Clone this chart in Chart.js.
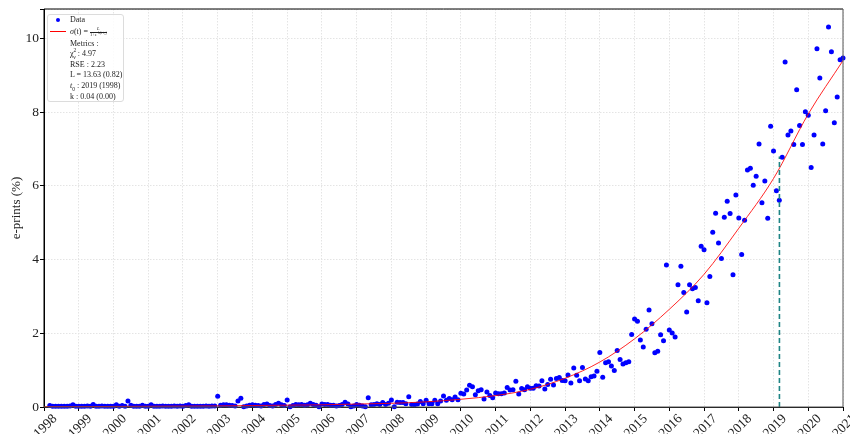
<!DOCTYPE html>
<html>
<head>
<meta charset="utf-8">
<script src="https://cdn.jsdelivr.net/npm/chart.js@4.4.1/dist/chart.umd.min.js"></script>
<style>
  body { margin: 0; background: #fff; }
  #wrap { position: relative; width: 850px; height: 434px; }
  #legend {
    position: absolute; left: 47px; top: 14px; width: 75px; height: 86px;
    border: 1px solid #dcdcdc; border-radius: 3px; background: rgba(255,255,255,0.85);
    font: 8px 'Liberation Serif', serif; color: #222;
  }
  #legend .row { position: absolute; left: 22px; height: 10px; line-height: 10px; white-space: nowrap; }
  #legend .dot { position: absolute; left: 8px; top: 3px; width: 4px; height: 4px; border-radius: 50%; background: #0000ff; }
  #legend .line { position: absolute; left: 2px; top: 16px; width: 16px; height: 0; border-top: 1.2px solid #ff0000; }
  .frac { display: inline-flex; flex-direction: column; align-items: center; vertical-align: middle;
          font-size: 4.5px; line-height: 4.5px; margin-left: 2px; }
  .frac .num { width: 100%; text-align: center; border-bottom: 0.6px solid #222; }
  .frac sup { font-size: 3px; vertical-align: 1.5px; line-height: 0; }
  .frac sub { font-size: 2.5px; vertical-align: -0.5px; line-height: 0; }
  .s { font-size: 5.5px; line-height: 0; }
</style>
</head>
<body>
<div id="wrap">
  <canvas id="chart" width="850" height="434"></canvas>
  <div id="legend">
    <span class="dot"></span>
    <div class="row" style="top:0px">Data</div>
    <span class="line"></span>
    <div class="row" style="top:12px"><i>σ</i>(t) =<span class="frac"><span class="num"><i>L</i></span><span class="den">1+e<sup>−k(t−t<sub>0</sub>)</sup></span></span></div>
    <div class="row" style="top:24px">Metrics :</div>
    <div class="row" style="top:34px">χ<sup class="s">2</sup><sub class="s" style="margin-left:-3px">ν</sub> : 4.97</div>
    <div class="row" style="top:45px">RSE : 2.23</div>
    <div class="row" style="top:55px">L = 13.63 (0.82)</div>
    <div class="row" style="top:66px"><i>t</i><sub class="s">0</sub> : 2019 (1998)</div>
    <div class="row" style="top:77px">k : 0.04 (0.00)</div>
  </div>
</div>
<script>
// monthly share of e-prints, first value is March 1998 (month index 2)
const firstMonth = 2;
const eprints = [
  0.04, 0.02, 0.02, 0.02, 0.02, 0.02, 0.02, 0.03, 0.06, 0.02,
  0.02, 0.02, 0.02, 0.03, 0.02, 0.07, 0.02, 0.02, 0.03, 0.02, 0.02, 0.02,
  0.02, 0.06, 0.02, 0.04, 0.02, 0.16, 0.05, 0.02, 0.02, 0.02, 0.05, 0.02,
  0.02, 0.06, 0.02, 0.02, 0.02, 0.03, 0.02, 0.02, 0.02, 0.03, 0.02, 0.03,
  0.02, 0.04, 0.06, 0.02, 0.02, 0.02, 0.02, 0.02, 0.03, 0.02, 0.03, 0.03,
  0.29, 0.05, 0.06, 0.06, 0.05, 0.04, 0.03, 0.16, 0.24, 0.01, 0.03, 0.05,
  0.06, 0.05, 0.04, 0.03, 0.07, 0.08, 0.04, 0.03, 0.07, 0.10, 0.06, 0.04,
  0.19, 0.01, 0.04, 0.07, 0.06, 0.07, 0.05, 0.06, 0.10, 0.07, 0.05, 0.01,
  0.08, 0.07, 0.07, 0.05, 0.05, 0.03, 0.04, 0.07, 0.13, 0.08, 0.01, 0.03,
  0.07, 0.05, 0.03, 0.01, 0.25, 0.06, 0.07, 0.09, 0.07, 0.12, 0.07, 0.10,
  0.19, 0.01, 0.13, 0.12, 0.12, 0.09, 0.28, 0.07, 0.06, 0.08, 0.15, 0.09,
  0.18, 0.09, 0.09, 0.18, 0.09, 0.16, 0.30, 0.18, 0.23, 0.20, 0.27, 0.20,
  0.37, 0.35, 0.46, 0.59, 0.55, 0.33, 0.44, 0.47, 0.22, 0.41, 0.31, 0.25,
  0.38, 0.36, 0.36, 0.38, 0.53, 0.46, 0.47, 0.70, 0.35, 0.50, 0.47, 0.55,
  0.51, 0.51, 0.58, 0.57, 0.71, 0.49, 0.61, 0.75, 0.60, 0.77, 0.80, 0.72,
  0.71, 0.87, 0.65, 1.06, 0.86, 0.71, 1.07, 0.76, 0.71, 0.82, 0.84, 0.97,
  1.48, 0.81, 1.20, 1.23, 1.11, 0.99, 1.53, 1.29, 1.17, 1.20, 1.23, 1.97,
  2.39, 2.33, 1.82, 1.63, 2.11, 2.63, 2.26, 1.47, 1.51, 1.96, 1.80, 3.85,
  2.09, 2.01, 1.90, 3.32, 3.82, 3.11, 2.58, 3.32, 3.21, 3.24, 2.88, 4.36,
  4.27, 2.83, 3.54, 4.74, 5.26, 4.45, 4.03, 5.15, 5.58, 5.25, 3.59, 5.75,
  5.13, 4.14, 5.07, 6.43, 6.48, 6.02, 6.26, 7.14, 5.54, 6.13, 5.12, 7.62,
  6.95, 5.87, 5.61, 6.78, 9.36, 7.38, 7.49, 7.12, 8.61, 7.64, 7.12, 8.01,
  7.92, 6.50, 7.38, 9.72, 8.93, 7.14, 8.04, 10.31, 9.64, 7.71, 8.41, 9.42,
  9.47
];

// logistic fit
const fitYears  = [1998, 1999, 2000, 2001, 2002, 2003, 2004, 2005, 2006, 2007, 2008, 2009,
                   2010, 2011, 2012, 2013, 2014, 2015, 2016, 2017, 2018, 2019, 2020, 2021];
const fitValues = [0.01, 0.01, 0.015, 0.02, 0.025, 0.03, 0.04, 0.05, 0.06, 0.08, 0.10, 0.14,
                   0.21, 0.31, 0.48, 0.78, 1.22, 1.85, 2.65, 3.60, 4.85, 6.20, 7.95, 9.40];

// t0 marker
const t0Year = 2019.17;
const t0Level = 6.8;

const serif = "'Liberation Serif', 'DejaVu Serif', serif";

const dataPoints = eprints.map((v, i) => ({ x: 1998 + (firstMonth + i) / 12, y: v }));
const fitPoints = fitYears.map((yr, i) => ({ x: yr, y: fitValues[i] }));

const frame = {
  id: 'frame',
  afterDraw(chart) {
    const { ctx, chartArea: a } = chart;
    ctx.save();
    ctx.lineWidth = 1;
    ctx.strokeStyle = '#000';
    ctx.beginPath();
    ctx.moveTo(a.left, a.bottom); ctx.lineTo(a.left, a.top); ctx.lineTo(a.right, a.top);
    ctx.stroke();
    ctx.strokeStyle = '#555';
    ctx.beginPath();
    ctx.moveTo(a.right, a.top); ctx.lineTo(a.right, a.bottom); ctx.lineTo(a.left, a.bottom);
    ctx.stroke();
    ctx.restore();
  }
};

new Chart(document.getElementById('chart'), {
  type: 'scatter',
  data: {
    datasets: [
      {
        label: 'Data',
        data: dataPoints,
        backgroundColor: '#0000ff',
        borderWidth: 0,
        pointRadius: 2.5,
        clip: false,
        order: 3
      },
      {
        type: 'line',
        label: 'fit',
        data: fitPoints,
        borderColor: 'rgba(255,0,0,0.85)',
        borderWidth: 1,
        pointRadius: 0,
        cubicInterpolationMode: 'monotone',
        fill: false,
        order: 2
      },
      {
        type: 'line',
        label: 't0',
        data: [{ x: t0Year, y: 0 }, { x: t0Year, y: t0Level }],
        borderColor: '#1f8585',
        borderWidth: 1.6,
        borderDash: [5, 3],
        pointRadius: 0,
        fill: false,
        order: 1
      }
    ]
  },
  options: {
    responsive: false,
    animation: false,
    layout: { padding: { top: 9, right: 7, left: 0, bottom: 0 } },
    plugins: {
      legend: { display: false },
      tooltip: { enabled: false }
    },
    scales: {
      x: {
        type: 'linear',
        min: 1998,
        max: 2021,
        afterFit: (s) => { s.height = 27; s.paddingLeft = 0; s.paddingRight = 0; },
        ticks: {
          stepSize: 1,
          autoSkip: false,
          minRotation: 45,
          maxRotation: 45,
          padding: 0,
          labelOffset: 11,
          color: '#222',
          font: { family: serif, size: 13.5 },
          callback: (v) => String(v)
        },
        grid: { color: '#e4e4e4', tickColor: '#000', tickLength: 4, tickBorderDash: [] },
        border: { color: '#000', dash: [1.5, 1.5] }
      },
      y: {
        min: 0,
        max: 10.8,
        afterFit: (s) => { s.width = 44; s.paddingTop = 0; s.paddingBottom = 0; },
        ticks: {
          stepSize: 2,
          padding: 1,
          color: '#222',
          font: { family: serif, size: 13.5 },
          callback: (v) => (v % 2 === 0 ? String(v) : '')
        },
        grid: { color: '#e4e4e4', tickColor: '#000', tickLength: 4, tickBorderDash: [] },
        border: { color: '#000', dash: [1.5, 1.5] },
        title: {
          display: true,
          text: 'e-prints (%)',
          color: '#222',
          font: { family: serif, size: 13 },
          padding: { top: 9, bottom: 0 }
        }
      }
    }
  },
  plugins: [frame]
});
</script>
</body>
</html>
